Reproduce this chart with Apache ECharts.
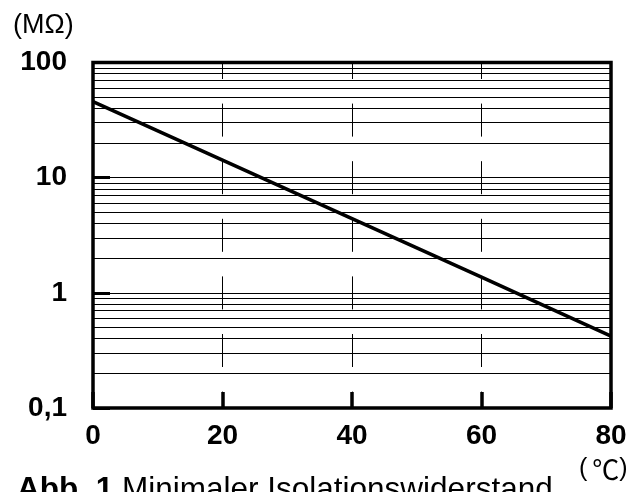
<!DOCTYPE html>
<html><head><meta charset="utf-8">
<script src="https://cdn.jsdelivr.net/npm/echarts@6/dist/echarts.min.js"></script>
<style>html,body{margin:0;padding:0;background:#fff}#c{width:632px;height:492px}</style>
</head><body><div id="c"></div>
<script>
// ---- data ----
const temperatures = [0, 20, 40, 60, 80];
const resistance = [45.7, 14.2, 4.4, 1.37, 0.42];
const xTickLabels = ['0', '20', '40', '60', '80'];
const yTickValues = [0.1, 1, 10, 100];
const yTickLabels = ['0,1', '1', '10', '100'];
const minorGridValues = [0.2, 0.3, 0.4, 0.5, 0.6, 0.7, 0.8, 0.9,
                         2, 3, 4, 5, 6, 7, 8, 9,
                         20, 30, 40, 50, 60, 70, 80, 90];
const yUnit = '(MΩ)';
const xUnit = '(℃)';
const captionBold = 'Abb. 1';
const captionText = 'Minimaler Isolationswiderstand';

const FONT = '"Liberation Sans", Arial, Helvetica, sans-serif';
const CJK = '"Noto Sans CJK JP", "Liberation Sans", sans-serif';
const chart = echarts.init(document.getElementById('c'), null, {renderer: 'canvas'});

const seriesData = temperatures.map((t, i) => [t, resistance[i]]);

chart.setOption({
  animation: false,
  backgroundColor: '#fff',
  grid: {
    left: 93, right: 21, top: 62.5, bottom: 84,
    show: true, borderColor: '#000', borderWidth: 3.5, backgroundColor: 'transparent'
  },
  xAxis: {
    type: 'value', min: 0, max: 80, interval: 20,
    axisLine: {show: false},
    axisTick: {show: true, inside: true, length: 16, lineStyle: {color: '#000', width: 3.5}},
    axisLabel: {
      color: '#000', fontFamily: FONT, fontWeight: 'bold', fontSize: 28, margin: 14,
      formatter: v => xTickLabels[temperatures.indexOf(v)] ?? ''
    },
    splitLine: {show: true, lineStyle: {color: '#000', width: 1, type: [33, 24.6], dashOffset: 16.5}}
  },
  yAxis: {
    type: 'log', logBase: 10, min: 0.1, max: 100,
    axisLine: {show: false},
    axisTick: {show: true, inside: true, length: 17, lineStyle: {color: '#000', width: 3}},
    axisLabel: {
      color: '#000', fontFamily: FONT, fontWeight: 'bold', fontSize: 28, margin: 26,
      formatter: v => {
        const i = yTickValues.findIndex(t => Math.abs(Math.log10(t) - Math.log10(v)) < 1e-6);
        return i >= 0 ? yTickLabels[i] : '';
      }
    },
    splitLine: {show: true, lineStyle: {color: '#000', width: 1}}
  },
  series: [{
    type: 'line',
    data: seriesData,
    symbol: 'none',
    lineStyle: {color: '#000', width: 3.6},
    z: 5,
    markLine: {
      silent: true,
      symbol: ['none', 'none'],
      label: {show: false},
      lineStyle: {color: '#000', width: 1, type: 'solid'},
      data: minorGridValues.map(v => ({yAxis: v}))
    }
  }],
  graphic: [
    {type: 'text', left: 13, top: 12,
     style: {text: yUnit, font: '27px ' + FONT, fill: '#000'}},
    {type: 'text', left: 579, top: 456,
     style: {
       text: xUnit.replace('℃', '{c|℃}'),
       font: '25px ' + FONT, fill: '#000',
       rich: {c: {fontFamily: CJK, fontSize: 27, fill: '#000', padding: [0, 0, 0, 5]}}
     }},
    {type: 'text', left: 17, top: 474,
     style: {
       text: '{b|' + captionBold + '} ' + captionText,
       font: '31.5px ' + FONT, fill: '#000',
       rich: {b: {fontWeight: 'bold', fontSize: 31.5, fontFamily: FONT, fill: '#000'}}
     }}
  ]
});
</script></body></html>
